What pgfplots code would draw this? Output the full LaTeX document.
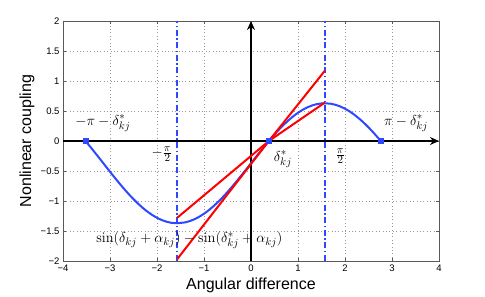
\documentclass[border=0pt]{standalone}
\usepackage[no-math]{fontspec}
\setmainfont{Liberation Sans}
\usepackage{pgfplots}
\pgfplotsset{compat=1.18}
\usetikzlibrary{arrows.meta}
\definecolor{mblue}{rgb}{0.18,0.28,1}
\begin{document}
\begin{tikzpicture}
\useasboundingbox (-63pt,-36pt) rectangle (422pt,261pt);
\begin{axis}[
 at={(0,0)}, anchor=south west,
 scale only axis, width=376pt, height=240pt,
 xmin=-4, xmax=4, ymin=-2, ymax=2,
 xtick={-4,-3,-2,-1,0,1,2,3,4}, ytick={-2,-1.5,-1,-0.5,0,0.5,1,1.5,2},
 xticklabels={−4,−3,−2,−1,0,1,2,3,4},
 yticklabels={−2,−1.5,−1,−0.5,0,0.5,1,1.5,2},
 grid=major, grid style={dash pattern=on 0.8pt off 2.6pt, black!40, line width=0.4pt},
 tick align=inside, major tick length=3pt,
 axis line style={black!65}, tick style={black!65},
 ticklabel style={font=\fontsize{9.5}{11}\selectfont},
 xlabel={Angular difference}, ylabel={Nonlinear coupling},
 label style={font=\fontsize{16}{19}\selectfont},
 xlabel style={at={(axis description cs:0.5,-0.1)}, anchor=center},
 ylabel style={at={(axis description cs:-0.0957,0.5)}, anchor=center},
 clip=false,
]
% coordinate axes arrows
\addplot[black, line width=1.7pt, -{Stealth[length=9pt,width=8pt]}] coordinates {(-4,0) (4,0)};
\addplot[black, line width=1.7pt, -{Stealth[length=9pt,width=8pt]}] coordinates {(0,-2) (0,2)};
% vertical dash-dot lines at +-pi/2
\addplot[mblue, line width=1.5pt, dash pattern=on 6pt off 2.5pt on 1.5pt off 2.5pt] coordinates {(-1.5708,-2) (-1.5708,2)};
\addplot[mblue, line width=1.5pt, dash pattern=on 6pt off 2.5pt on 1.5pt off 2.5pt] coordinates {(1.5708,-2) (1.5708,2)};
% blue curve
\addplot[mblue, line width=2pt] coordinates {
(-3.5216,0) (-3.5,-0.0201) (-3.4,-0.1154) (-3.3,-0.2132) (-3.2,-0.3125) (-3.1,-0.4125)
(-3.0,-0.5120) (-2.9,-0.6101) (-2.8,-0.7059) (-2.7,-0.7983) (-2.6,-0.8864) (-2.5,-0.9694)
(-2.4,-1.0464) (-2.3,-1.1166) (-2.2,-1.1794) (-2.1,-1.2341) (-2.0,-1.2802) (-1.9,-1.3172)
(-1.8,-1.3447) (-1.7,-1.3626) (-1.5708,-1.3709) (-1.4,-1.3563) (-1.3,-1.3345) (-1.2,-1.3029)
(-1.1,-1.2621) (-1.0,-1.2124) (-0.9,-1.1542) (-0.8,-1.0883) (-0.7,-1.0151) (-0.6,-0.9355)
(-0.5,-0.8503) (-0.4,-0.7603) (-0.3,-0.6664) (-0.2,-0.5696) (-0.1,-0.4707) (0,-0.3709)
(0.1,-0.2711) (0.2,-0.1722) (0.3,-0.0754) (0.38,0) (0.5,0.1085) (0.6,0.1937) (0.7,0.2733)
(0.8,0.3465) (0.9,0.4124) (1.0,0.4706) (1.1,0.5203) (1.2,0.5611) (1.3,0.5927) (1.4,0.6145)
(1.5,0.6266) (1.5708,0.6291) (1.7,0.6208) (1.8,0.6029) (1.9,0.5754) (2.0,0.5384) (2.1,0.4923)
(2.2,0.4376) (2.3,0.3748) (2.4,0.3046) (2.5,0.2276) (2.6,0.1446) (2.7,0.0565) (2.7616,0)
};
% red sector lines
\addplot[red, line width=2pt] coordinates {(-1.5708,-1.97) (0.38,0) (1.5708,1.17)};
\addplot[red, line width=2pt] coordinates {(-1.5708,-1.28) (0.38,0) (1.5708,0.64)};
% equilibrium markers
\addplot[mblue, only marks, mark=square*, mark size=2.6pt] coordinates {(-3.5216,0) (0.38,0) (2.7616,0)};
% annotations
\node[font=\fontsize{15}{18}\selectfont] at (axis cs:-3.15,0.3) {$-\pi-\delta^*_{kj}$};
\node[font=\fontsize{15}{18}\selectfont] at (axis cs:3.3,0.3) {$\pi-\delta^*_{kj}$};
\node[font=\fontsize{15}{18}\selectfont, inner sep=0pt] at (axis cs:-1.9,-0.22) {$-\frac{\pi}{2}$};
\node[font=\fontsize{15}{18}\selectfont, inner sep=0pt] at (axis cs:1.9,-0.25) {$\frac{\pi}{2}$};
\node[font=\fontsize{15}{18}\selectfont] at (axis cs:0.68,-0.3) {$\delta^*_{kj}$};
\node[font=\fontsize{15}{18}\selectfont] at (axis cs:-1.31,-1.66) {$\sin(\delta_{kj}+\alpha_{kj})-\sin(\delta^*_{kj}+\alpha_{kj})$};
\end{axis}
\end{tikzpicture}
\end{document}
